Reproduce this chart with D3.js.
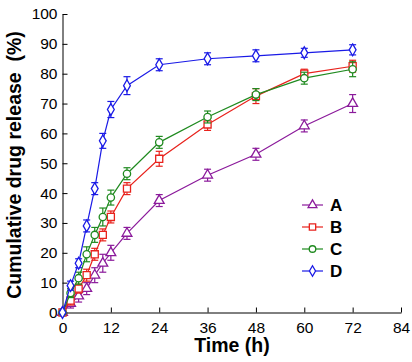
<!DOCTYPE html>
<html>
<head>
<meta charset="utf-8">
<script src="https://cdn.jsdelivr.net/npm/d3@7"></script>
<style>
  body { margin: 0; background: #fff; }
  svg { display: block; font-family: Arial, "Liberation Sans", sans-serif; }
</style>
</head>
<body>
<svg id="chart" width="412" height="362"></svg>
<script>
const times = [0, 2, 4, 6, 8, 10, 12, 16, 24, 36, 48, 60, 72];
const seriesNames = ["A", "B", "C", "D"];
const valuesA = [0, 3, 5.5, 8, 12.5, 16.5, 20, 26.5, 37.5, 46, 53, 62.5, 70];
const errorsA = [0, 1.5, 2, 2, 2.5, 3, 2.5, 2, 2, 2, 2, 2, 3];
const valuesB = [0, 4, 8, 12.5, 19.5, 26, 32, 41.5, 51.5, 63, 72.5, 80, 82.5];
const errorsB = [0, 1.5, 1.5, 2, 2, 2, 2, 2, 2.5, 2, 2.5, 1.5, 2];
const valuesC = [0, 6.5, 11.5, 19.5, 26, 32, 38.5, 46.5, 57, 65.5, 73, 78.5, 81.5];
const errorsC = [0, 1.5, 2, 2.5, 2.5, 3, 2.5, 2, 2, 2, 2, 2, 2.5];
const valuesD = [0, 9, 16.5, 29, 41.5, 57.5, 68, 76, 83, 85, 86, 87, 88];
const errorsD = [0, 1.5, 1.5, 2, 2, 2.5, 2.7, 3, 2, 2, 2, 1.5, 1.7];
const xTicks = [0, 12, 24, 36, 48, 60, 72, 84];
const yTicks = [0, 10, 20, 30, 40, 50, 60, 70, 80, 90, 100];

const colors = { A: "#8b1a9b", B: "#e8221c", C: "#1f8a1f", D: "#1a1ae6" };
const symbols = { A: d3.symbolTriangle, B: d3.symbolSquare, C: d3.symbolCircle, D: d3.symbolDiamond };
const symSize = { A: 42, B: 50, C: 42, D: 40 };

const series = [
  { name: "A", values: valuesA, errors: errorsA },
  { name: "B", values: valuesB, errors: errorsB },
  { name: "C", values: valuesC, errors: errorsC },
  { name: "D", values: valuesD, errors: errorsD }
];

const svg = d3.select("#chart");
const x = d3.scaleLinear().domain([0, 84]).range([62.5, 401]);
const y = d3.scaleLinear().domain([0, 100]).range([312.5, 14]);

// axes, ticks pointing inward
const xAxis = svg.append("g")
  .attr("transform", `translate(0,${y(0)})`)
  .call(d3.axisBottom(x).tickValues(xTicks).tickSizeInner(-5).tickSizeOuter(0).tickPadding(9));
const yAxis = svg.append("g")
  .attr("transform", `translate(${x(0)},0)`)
  .call(d3.axisLeft(y).tickValues(yTicks).tickSizeInner(-5).tickSizeOuter(0).tickPadding(5));

[xAxis, yAxis].forEach(g => {
  g.selectAll("path, line").attr("stroke", "#000").attr("stroke-width", 1);
  g.selectAll("text").attr("font-size", 15.5).attr("fill", "#000")
    .attr("font-family", "Arial, 'Liberation Sans', sans-serif");
});

// lines, error bars, markers
const line = d3.line().x((d, i) => x(times[i])).y(d => y(d));

series.forEach(s => {
  const c = colors[s.name];
  const g = svg.append("g");
  g.append("path")
    .attr("d", line(s.values))
    .attr("fill", "none")
    .attr("stroke", c)
    .attr("stroke-width", 1.2);

  const pts = s.values.map((v, i) => ({ t: times[i], v: v, e: s.errors[i] }));
  const eb = g.selectAll(".eb").data(pts.filter(p => p.e > 0)).join("g");
  eb.append("line")
    .attr("x1", d => x(d.t)).attr("x2", d => x(d.t))
    .attr("y1", d => y(d.v - d.e)).attr("y2", d => y(d.v + d.e))
    .attr("stroke", c).attr("stroke-width", 1.2);
  [-1, 1].forEach(sign => {
    eb.append("line")
      .attr("x1", d => x(d.t) - 3.5).attr("x2", d => x(d.t) + 3.5)
      .attr("y1", d => y(d.v + sign * d.e)).attr("y2", d => y(d.v + sign * d.e))
      .attr("stroke", c).attr("stroke-width", 1.2);
  });

  g.selectAll(".mk").data(pts).join("path")
    .attr("transform", d => `translate(${x(d.t)},${y(d.v)})`)
    .attr("d", d3.symbol().type(symbols[s.name]).size(symSize[s.name]))
    .attr("fill", "#fff")
    .attr("stroke", c)
    .attr("stroke-width", 1.3);
});

// legend
const legend = svg.append("g").attr("transform", "translate(302,205)");
series.forEach((s, i) => {
  const c = colors[s.name];
  const row = legend.append("g").attr("transform", `translate(0,${i * 22})`);
  row.append("line").attr("x1", 0).attr("x2", 21).attr("y1", 0).attr("y2", 0)
    .attr("stroke", c).attr("stroke-width", 1.2);
  row.append("path")
    .attr("transform", "translate(10.5,0)")
    .attr("d", d3.symbol().type(symbols[s.name]).size(symSize[s.name] * 0.8))
    .attr("fill", "#fff").attr("stroke", c).attr("stroke-width", 1.3);
  row.append("text")
    .attr("x", 28).attr("y", 6)
    .attr("font-size", 17).attr("font-weight", "bold")
    .text(s.name);
});

// axis titles
svg.append("text")
  .attr("x", 232).attr("y", 352)
  .attr("text-anchor", "middle")
  .attr("font-size", 19.5).attr("font-weight", "bold")
  .text("Time (h)");

svg.append("text")
  .attr("transform", "translate(21,165) rotate(-90)")
  .attr("text-anchor", "middle")
  .attr("font-size", 19.5).attr("font-weight", "bold")
  .text("Cumulative drug release\u00a0\u00a0(%)");
</script>
</body>
</html>
